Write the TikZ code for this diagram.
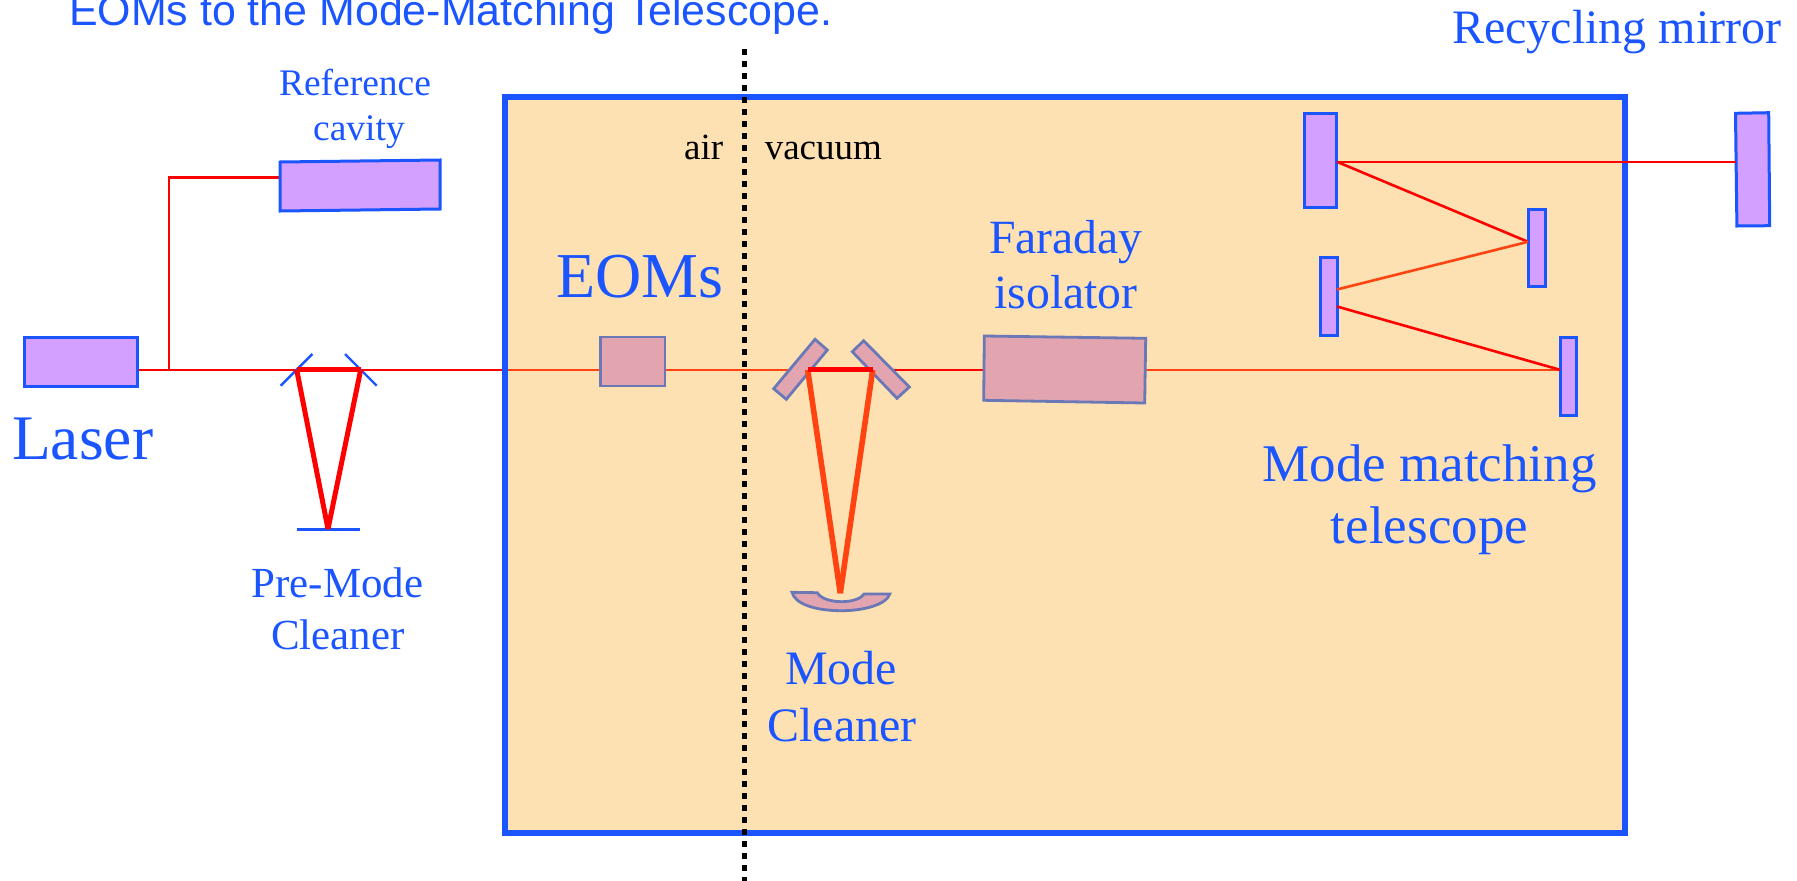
\documentclass[tikz,border=0pt]{standalone}
\usepackage{fontspec}
\setmainfont{Liberation Serif}
\newfontfamily\arialfont{Liberation Sans}
\definecolor{vblue}{HTML}{1A55FF}
\definecolor{vfill}{HTML}{FEE1B2}
\definecolor{vlilac}{HTML}{D4A0FF}
\definecolor{vpink}{HTML}{E2A5B0}
\definecolor{vedge}{HTML}{6A78B8}
\definecolor{vorange}{HTML}{FF4411}
\definecolor{vred}{HTML}{FF0000}
\newcommand{\fs}[1]{\fontsize{#1}{#1}\selectfont}
\tikzset{
  lab/.style={text=vblue,inner sep=0pt,anchor=base},
  labw/.style={text=vblue,inner sep=0pt,anchor=base west},
  blk/.style={text=black,inner sep=0pt,anchor=base west},
  optic/.style={draw=vblue,fill=vlilac,line width=3pt,line join=miter},
  eo/.style={draw=vedge,fill=vpink,line width=2.8pt,line join=miter},
  beamr/.style={draw=vred,line width=2.6pt},
  beamo/.style={draw=vorange,line width=2.6pt},
  thickr/.style={draw=vred,line width=5pt},
  thicko/.style={draw=vorange,line width=5.6pt},
  pmcm/.style={draw=vblue,line width=2.4pt},
  wall/.style={draw=vblue,line width=6pt,line join=miter},
  divider/.style={draw=black,line width=5.5pt,dash pattern=on 6pt off 6pt}
}
\begin{document}
\begin{tikzpicture}[x=1pt,y=-1pt]
\useasboundingbox (0,0) rectangle (1797,881);
\clip (0,0) rectangle (1797,881);
% beam points
\coordinate (laserOut) at (137,369.8);
\coordinate (branch) at (169,369.8);
\coordinate (branchTop) at (169,177.5);
\coordinate (refIn) at (280,177.5);
\coordinate (wallL) at (504,369.8);
\coordinate (wallIn) at (507,369.8);
\coordinate (mcInEnd) at (791.7,369.8);
\coordinate (pL) at (296.7,369.8);
\coordinate (pR) at (360.7,369.8);
\coordinate (pB) at (328,529);
\coordinate (mL) at (807.7,369.8);
\coordinate (mR) at (872.7,369.8);
\coordinate (mB) at (840.3,593.3);
\coordinate (mcOut) at (888.7,369.8);
\coordinate (farIn) at (984.3,369.8);
\coordinate (farOut) at (1145,369.8);
\coordinate (m4hit) at (1560,369.8);
\coordinate (m3a) at (1337,306.5);
\coordinate (m3b) at (1337,289.5);
\coordinate (m2hit) at (1528,241.8);
\coordinate (m1hit) at (1337,161.8);
\coordinate (recHit) at (1735.5,161.8);
% vacuum tank
\path[fill=vfill] (505,97.3) rectangle (1625,833);
% beams crossing the tank wall
\draw[beamr] (laserOut) -- (wallL);
\draw[beamr] (branch) -- (branchTop) -- (refIn);
\draw[beamo] (wallIn) -- (mcInEnd);
\draw[beamr] (mcOut) -- (farIn);
\draw[beamo] (farOut) -- (m4hit);
\draw[wall] (505,97.3) rectangle (1625,833);
% laser, reference cavity
\path[optic] (24,337) rectangle (137,386);
\path[optic] (280,162) -- (440,160) -- (440,209) -- (280,211) -- cycle;
% Pre-mode cleaner
\draw[pmcm] (280.7,385.7) -- (312.3,354);
\draw[pmcm] (345,354) -- (376.7,385.7);
\draw[pmcm] (296.7,529.6) -- (360.3,529.6);
\draw[thickr] (pL) -- (pR);
\draw[thickr] (pL) -- (pB);
\draw[thickr] (pR) -- (pB);
% EOM, Mode cleaner, Faraday
\path[eo] (600.5,337) rectangle (665,386);
\path[eo] (815,339.3) -- (827.3,350) -- (786.3,399.3) -- (773.7,388.7) -- cycle;
\path[eo] (863.7,340.7) -- (909.3,387) -- (897,398.3) -- (852.3,351.7) -- cycle;
\path[eo] (792,592.3) -- (817.3,592.7) .. controls (820,598) and (830,601.7) .. (841.7,601.7) .. controls (853,601.7) and (862,598) .. (864,594) -- (889.7,594) .. controls (887,604) and (865,610.7) .. (841.7,610.7) .. controls (815,610.7) and (795,604) .. (792,592.3) -- cycle;
\path[eo] (984.3,336) -- (1145.7,338.3) -- (1144.7,403) -- (983.7,400.3) -- cycle;
\draw[thicko] (mL) -- (mB);
\draw[thicko] (mR) -- (mB);
\draw[thickr] (808.3,369.8) -- (872.7,369.8);
% Telescope
\path[optic] (1304,113.3) rectangle (1336.9,207);
\path[optic] (1528,209.3) rectangle (1545,286.7);
\path[optic] (1320,257) rectangle (1337.2,335);
\path[optic] (1560,337) rectangle (1576.8,415);
\path[optic] (1735.5,113.3) -- (1768.7,112.7) -- (1769.7,225.7) -- (1736.9,226) -- cycle;
\draw[beamr] (m1hit) -- (recHit);
\draw[beamr] (m1hit) -- (m2hit);
\draw[beamo] (m3b) -- (m2hit);
\draw[beamr] (m3a) -- (m4hit);
% air / vacuum divider
\coordinate (divTop) at (744.4,49.3);
\coordinate (divBot) at (744.4,881);
\draw[divider] (divTop) -- (divBot);
% labels
\node[labw] (title) at (69,25) {\arialfont\fs{42.9}EOMs to the Mode-Matching Telescope.};
\node[labw] (recycling) at (1452,43) {\fs{48}Recycling mirror};
\node[lab] (ref1) at (355,95.5) {\fs{37.5}Reference};
\node[lab] (ref2) at (359,140.5) {\fs{37.5}cavity};
\node[blk] (air) at (684,159.5) {\fs{37}air};
\node[blk] (vac) at (764.6,159.5) {\fs{37}vacuum};
\node[labw] (eoms) at (556,297) {\fs{64}EOMs};
\node[labw] (laserlab) at (12,459) {\fs{63.5}Laser};
\node[lab] (pmc1) at (337.5,597) {\fs{42.9}Pre-Mode};
\node[lab] (pmc2) at (338,649) {\fs{42.9}Cleaner};
\node[lab] (mc1) at (841,684) {\fs{48}Mode};
\node[lab] (mc2) at (842,741) {\fs{48}Cleaner};
\node[lab] (far1) at (1066,253) {\fs{47.7}Faraday};
\node[lab] (far2) at (1066,308) {\fs{47.7}isolator};
\node[lab] (mmt1) at (1429.5,481) {\fs{53}Mode matching};
\node[lab] (mmt2) at (1429.5,543) {\fs{53}telescope};
\end{tikzpicture}
\end{document}
